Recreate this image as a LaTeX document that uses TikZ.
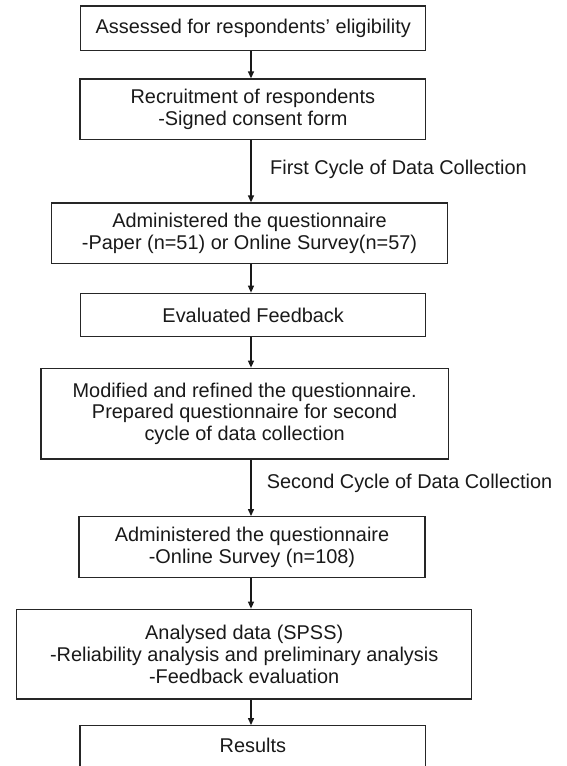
\documentclass[tikz,border=0pt]{standalone}
\usepackage{fontspec}
\setmainfont{Liberation Sans}
\usetikzlibrary{arrows.meta}
\begin{document}
\begin{tikzpicture}[x=1pt,y=-1pt,
  stepbox/.style={draw=black!85, line width=1.3pt, align=center, inner sep=0pt,
    font=\fontsize{19.9}{21.8}\selectfont, text=black!90},
  arr/.style={line width=1.3pt, draw=black!90, -{Triangle[length=7pt,width=6pt]}},
  lbl/.style={anchor=west, inner sep=0pt, font=\fontsize{19.9}{21.8}\selectfont, text=black!90}]
\useasboundingbox (0,0) rectangle (566,766);
\clip (0,0) rectangle (566,766);
\node[stepbox, minimum width=345pt, minimum height=44.7pt] (b1) at (253.2,28.35)
  {Assessed for respondents’ eligibility};
\node[stepbox, minimum width=345.7pt, minimum height=60.3pt] (b2) at (252.85,109.15)
  {Recruitment of respondents\\-Signed consent form};
\node[stepbox, minimum width=395.6pt, minimum height=60.3pt] (b3) at (249.5,233.15)
  {Administered the questionnaire\\-Paper (n=51) or Online Survey(n=57)};
\node[stepbox, minimum width=345pt, minimum height=43.4pt] (b4) at (253.2,315)
  {Evaluated Feedback};
\node[stepbox, minimum width=407.3pt, minimum height=90.7pt] (b5) at (244.65,413.65)
  {Modified and refined the questionnaire.\\Prepared questionnaire for second\\cycle of data collection};
\node[stepbox, minimum width=346pt, minimum height=61pt] (b6) at (252,547.2)
  {Administered the questionnaire\\-Online Survey (n=108)};
\node[stepbox, minimum width=455pt, minimum height=89.7pt] (b7) at (244.2,654.15)
  {Analysed data (SPSS)\\-Reliability analysis and preliminary analysis\\-Feedback evaluation};
\node[stepbox, minimum width=345.7pt, minimum height=49.3pt] (b8) at (252.85,750.35) {};
\node[anchor=base, inner sep=0pt, font=\fontsize{19.9}{21.8}\selectfont, text=black!90] (r8) at (252.85,752) {Results};
\node[lbl] (l1) at (270,169) {First Cycle of Data Collection};
\node[lbl] (l2) at (266.7,483.3) {Second Cycle of Data Collection};
\coordinate (ax) at (251,0);
\draw[arr] (b1.south -| ax) -- (b2.north -| ax);
\draw[arr] (b2.south -| ax) -- (b3.north -| ax);
\draw[arr] (b3.south -| ax) -- (b4.north -| ax);
\draw[arr] (b4.south -| ax) -- (b5.north -| ax);
\draw[arr] (b5.south -| ax) -- (b6.north -| ax);
\draw[arr] (b6.south -| ax) -- (b7.north -| ax);
\draw[arr] (b7.south -| ax) -- (b8.north -| ax);
\end{tikzpicture}
\end{document}
